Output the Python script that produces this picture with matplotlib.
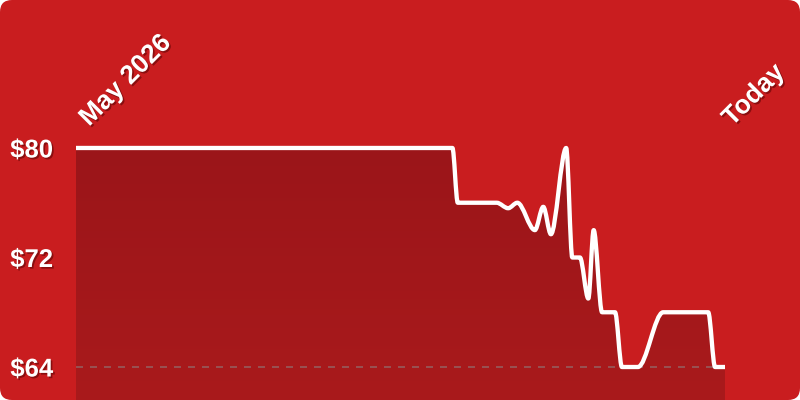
import matplotlib
matplotlib.use("Agg")
import matplotlib.pyplot as plt
import numpy as np
from matplotlib.path import Path
from matplotlib.patches import PathPatch, FancyBboxPatch
from matplotlib.colors import LinearSegmentedColormap
import matplotlib.patheffects as pe

# price history (x = days since start of May 2026)
days = [0, 49.3, 50.0, 55.1, 56.6, 57.8, 60.1, 61.2, 62.2, 64.2, 65.0, 66.0,
        67.1, 67.8, 68.9, 70.6, 71.5, 73.6, 76.9, 82.8, 83.7, 85.0]
prices = [80, 80, 76, 76, 75.6, 76, 74, 75.7, 73.7, 80, 72, 72,
          69, 74, 68, 68, 64, 64, 68, 68, 64, 64]

y_ticks = [64, 72, 80]
y_labels = [r"\$64", r"\$72", r"\$80"]
start_label = "May 2026"
end_label = "Today"

BG = "#C91D1F"
FONT = "Liberation Sans"


def monotone_path(x, y):
    # same shape as d3 curveMonotoneX
    x = np.asarray(x, float)
    y = np.asarray(y, float)
    n = len(x)
    h = np.diff(x)
    s = np.diff(y) / h
    t = np.zeros(n)
    for i in range(1, n - 1):
        p = (s[i - 1] * h[i] + s[i] * h[i - 1]) / (h[i - 1] + h[i])
        sg = (1 if s[i - 1] >= 0 else -1) + (1 if s[i] >= 0 else -1)
        t[i] = sg * min(abs(s[i - 1]), abs(s[i]), 0.5 * abs(p))
    t[0] = (3 * s[0] - t[1]) / 2
    t[-1] = (3 * s[-1] - t[-2]) / 2
    verts = [(x[0], y[0])]
    codes = [Path.MOVETO]
    for i in range(n - 1):
        dx = h[i] / 3
        verts += [(x[i] + dx, y[i] + dx * t[i]),
                  (x[i + 1] - dx, y[i + 1] - dx * t[i + 1]),
                  (x[i + 1], y[i + 1])]
        codes += [Path.CURVE4] * 3
    return verts, codes


fig = plt.figure(figsize=(8, 4), dpi=100)
fig.patch.set_facecolor("white")
bg = FancyBboxPatch((0, 0), 800, 400, boxstyle="round,pad=0,rounding_size=12",
                    transform=None, facecolor=BG, edgecolor="none", zorder=-10)
fig.add_artist(bg)

ax = fig.add_axes([76 / 800, 0, 649 / 800, 1])
ax.set_facecolor("none")
ymin, ymax = 61.59, 90.81
ax.set_xlim(days[0], days[-1])
ax.set_ylim(ymin, ymax)
for sp in ax.spines.values():
    sp.set_visible(False)

verts, codes = monotone_path(days, prices)

# area under the line, with a soft vertical gradient
fill_verts = verts + [(days[-1], ymin), (days[0], ymin), (days[0], prices[0])]
fill_codes = codes + [Path.LINETO, Path.LINETO, Path.CLOSEPOLY]
fill_patch = PathPatch(Path(fill_verts, fill_codes), facecolor="none", edgecolor="none")
ax.add_patch(fill_patch)
cmap = LinearSegmentedColormap.from_list("fill", ["#9B1519", "#A91A1C"])
grad = np.linspace(0, 1, 256).reshape(-1, 1)
im = ax.imshow(grad, cmap=cmap, aspect="auto", origin="upper",
               extent=[days[0], days[-1], ymin, max(prices)], zorder=1)
im.set_clip_path(fill_patch)

# dashed baseline at the lowest tick
ax.axhline(y_ticks[0], color="#8a8a8a", alpha=0.5, lw=1.4, dashes=(3.6, 3.6), zorder=2)

line = PathPatch(Path(verts, codes), facecolor="none", edgecolor="white",
                 lw=3.1, capstyle="butt", joinstyle="round", zorder=3)
ax.add_patch(line)

shadow = [pe.withSimplePatchShadow(offset=(1.2, -1.2), shadow_rgbFace="#4a0000", alpha=0.5)]

ax.set_xticks([])
ax.set_yticks(y_ticks)
ax.set_yticklabels(y_labels)
ax.tick_params(axis="y", length=0, pad=16.5)
for lab in ax.get_yticklabels():
    lab.set_fontfamily(FONT)
    lab.set_fontweight("bold")
    lab.set_fontsize(18.5)
    lab.set_color("white")
    lab.set_path_effects(shadow)

fig.text(89 / 800, 1 - 127 / 400, start_label, rotation=45, rotation_mode="anchor",
         ha="left", va="baseline", color="white", fontsize=19, fontweight="bold",
         family=FONT, path_effects=shadow)
fig.text(732 / 800, 1 - 127 / 400, end_label, rotation=45, rotation_mode="anchor",
         ha="left", va="baseline", color="white", fontsize=19, fontweight="bold",
         family=FONT, path_effects=shadow)

fig.savefig("out.png", dpi=100, facecolor="white")
